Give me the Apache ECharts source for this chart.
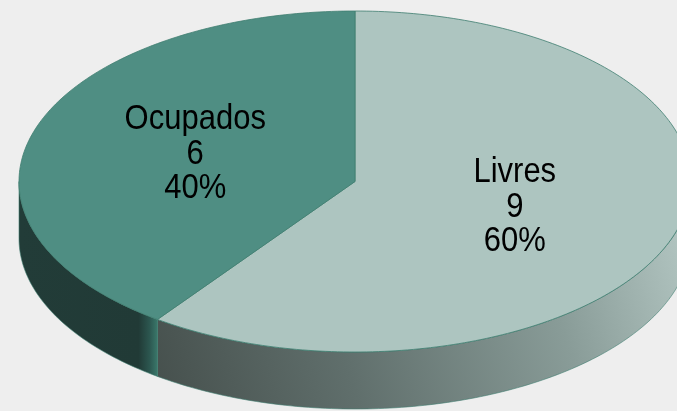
<!DOCTYPE html>
<html>
<head>
<meta charset="utf-8">
<script src="https://cdn.jsdelivr.net/npm/echarts@6/dist/echarts.min.js"></script>
<style>
  html,body{margin:0;padding:0;background:#eeeeee;}
  #chart{width:677px;height:411px;}
</style>
</head>
<body>
<div id="chart"></div>
<script>
// dados do gráfico (pizza 3D)
var categories = ['Livres', 'Ocupados'];
var values = [9, 6];
var topColors = ['#adc5c0', '#4f8e83'];

(function(){
    var total = 0;
    for (var i = 0; i < values.length; i++) total += values[i];

    // geometria da elipse (em px da janela)
    var geo = { cx: 355, cy: 181.5, rx: 336, ry: 170.5, depth: 57, startAngle: 90 };

    // gradientes das paredes laterais
    var wallFills = [
        { type: 'linear', global: true, x: 157, y: 395, x2: 677, y2: 235,
          colorStops: [
              { offset: 0, color: '#46504d' },
              { offset: 0.35, color: '#606f6c' },
              { offset: 0.75, color: '#899c98' },
              { offset: 1, color: '#b0c3bf' }
          ] },
        { type: 'linear', global: true, x: 19, y: 0, x2: 158, y2: 0,
          colorStops: [
              { offset: 0, color: '#223c38' },
              { offset: 0.86, color: '#213a36' },
              { offset: 0.94, color: '#2c5750' },
              { offset: 1, color: '#3b7a6c' }
          ] }
    ];

    function pt(a, dy) {
        var r = a * Math.PI / 180;
        return [geo.cx + geo.rx * Math.cos(r), geo.cy - geo.ry * Math.sin(r) + (dy || 0)];
    }

    function renderItem(params, api) {
        var idx = params.dataIndex;
        var before = 0;
        for (var i = 0; i < idx; i++) before += values[i];
        var a0 = geo.startAngle - before / total * 360;          // sentido horário
        var a1 = a0 - values[idx] / total * 360;
        var children = [];

        // parede lateral: só a parte da frente (seno < 0)
        for (var k = -1; k <= 1; k++) {
            var lo = Math.max(a1, -180 + 360 * k);
            var hi = Math.min(a0, 360 * k);
            if (hi - lo <= 0) continue;
            var top = [], bot = [];
            for (var a = lo; a <= hi; a += 1) { top.push(pt(a)); bot.push(pt(a, geo.depth)); }
            top.push(pt(hi)); bot.push(pt(hi, geo.depth));
            var poly = top.concat(bot.reverse());
            children.push({
                type: 'polygon', z2: 1,
                shape: { points: poly },
                style: { fill: wallFills[idx], stroke: '#3f7d70', lineWidth: 0.6 }
            });
        }

        // face de cima
        var pts = [[geo.cx, geo.cy]];
        for (var b = a0; b >= a1; b -= 1) pts.push(pt(b));
        pts.push(pt(a1));
        children.push({
            type: 'polygon', z2: 2,
            shape: { points: pts },
            style: { fill: topColors[idx], stroke: '#3f7d70', lineWidth: 0.8 }
        });

        // rótulo
        var mid = (a0 + a1) / 2 * Math.PI / 180;
        var pct = Math.round(values[idx] / total * 100);
        children.push({
            type: 'text', z2: 3,
            x: geo.cx + geo.rx * 0.5 * Math.cos(mid),
            y: geo.cy - geo.ry * 0.5 * Math.sin(mid) - 1,
            scaleY: 1.15,
            style: {
                text: categories[idx] + '\n' + values[idx] + '\n' + pct + '%',
                font: '31px "Liberation Sans", Arial, sans-serif',
                lineHeight: 30,
                fill: '#000',
                align: 'center',
                verticalAlign: 'middle'
            }
        });
        return { type: 'group', children: children };
    }

    var data = [];
    for (var j = 0; j < categories.length; j++) data.push({ name: categories[j], value: values[j] });

    var myChart = echarts.init(document.getElementById('chart'));
    myChart.setOption({
        backgroundColor: '#eeeeee',
        animation: false,
        series: [{
            type: 'custom',
            coordinateSystem: 'none',
            renderItem: renderItem,
            data: data
        }]
    });
})();
</script>
</body>
</html>
